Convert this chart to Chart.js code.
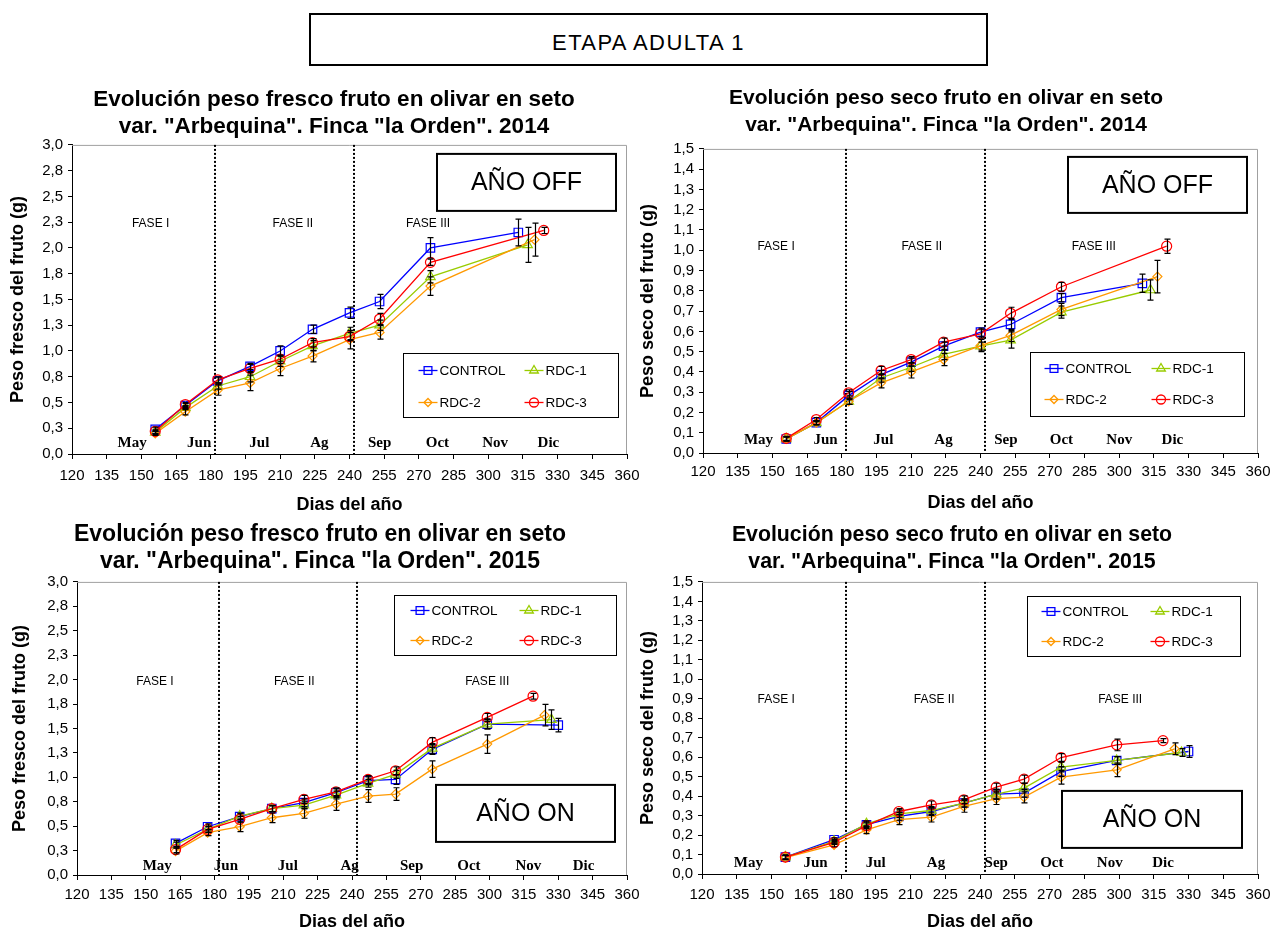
<!DOCTYPE html>
<html lang="es">
<head>
<meta charset="utf-8">
<title>Etapa adulta 1</title>
<script src="https://cdn.jsdelivr.net/npm/chart.js@4.4.1/dist/chart.umd.min.js"></script>
<style>
  html, body { margin: 0; padding: 0; background: #fff; }
  body { width: 1281px; height: 933px; position: relative; overflow: hidden; }
  .header {
    position: absolute; left: 309px; top: 13px; width: 679px; height: 53px;
    box-sizing: border-box; border: 2px solid #000; padding-top: 7px;
    font: 22px "Liberation Sans", Arial, sans-serif; letter-spacing: 1.4px;
    display: flex; align-items: center; justify-content: center;
  }
  canvas { position: absolute; }
</style>
</head>
<body>
<div class="header">ETAPA ADULTA 1</div>
<canvas id="fresh2014" width="668" height="450" style="left:0;top:80px"></canvas>
<canvas id="dry2014" width="651" height="450" style="left:630px;top:80px"></canvas>
<canvas id="fresh2015" width="650" height="428" style="left:0;top:505px"></canvas>
<canvas id="dry2015" width="651" height="428" style="left:630px;top:505px"></canvas>
<script>
// series
const SERIES = ["CONTROL", "RDC-1", "RDC-2", "RDC-3"]
const COLORS = ["#0000ff", "#99cc00", "#ff9900", "#ff0000"]
const MARKERS = ["rect", "triangle", "rectRot", "circle"]
const MARKER_SIZE = [6, 5.5, 4.5, 5]

// axes
const X_TICKS = [120, 135, 150, 165, 180, 195, 210, 225, 240, 255, 270, 285, 300, 315, 330, 345, 360]
const Y_TICKS_FRESH = [0, 0.25, 0.5, 0.75, 1, 1.25, 1.5, 1.75, 2, 2.25, 2.5, 2.75, 3]
const Y_TICKS_DRY = [0, 0.1, 0.2, 0.3, 0.4, 0.5, 0.6, 0.7, 0.8, 0.9, 1, 1.1, 1.2, 1.3, 1.4, 1.5]
const MONTHS = ["May", "Jun", "Jul", "Ag", "Sep", "Oct", "Nov", "Dic"]
const PHASES = ["FASE I", "FASE II", "FASE III"]
const PHASE_LIMITS = [182, 242]

// sampling days (day of year); last sample is shifted per series
const DAYS_2014 = [156, 169, 183, 197, 210, 224, 240, 253, 275]
const LAST_DAY_FRESH_2014 = [313, 317, 320, 324]
const LAST_DAY_DRY_2014 = [310, 313.5, 316.5, 320.5]
const DAYS_FRESH_2015 = [163, 177, 191, 205, 219, 233, 247, 259, 275, 299]
const DAYS_DRY_2015 = [156, 177, 191, 205, 219, 233, 247, 259, 275, 299]
const LAST_DAY_2015 = [330, 327, 324, 319]

// fresh weight 2014 (g) - CONTROL, RDC-1, RDC-2, RDC-3
const FRESH_2014 = [
  [0.24, 0.47, 0.71, 0.85, 1.00, 1.21, 1.37, 1.48, 2.00, 2.15],
  [0.21, 0.45, 0.66, 0.75, 0.90, 1.05, 1.17, 1.25, 1.72, 2.03],
  [0.20, 0.41, 0.62, 0.69, 0.83, 0.95, 1.11, 1.18, 1.63, 2.08],
  [0.22, 0.48, 0.72, 0.83, 0.92, 1.08, 1.14, 1.31, 1.86, 2.17]
]
const FRESH_2014_ERR = [
  [0.02, 0.02, 0.03, 0.03, 0.05, 0.04, 0.055, 0.07, 0.10, 0.13],
  [0.02, 0.02, 0.03, 0.05, 0.05, 0.05, 0.06, 0.05, 0.06, 0.17],
  [0.02, 0.03, 0.05, 0.075, 0.07, 0.055, 0.09, 0.065, 0.09, 0.16],
  [0.02, 0.02, 0.03, 0.04, 0.04, 0.04, 0.04, 0.055, 0.03, 0.03]
]

// dry weight 2014 (g)
const DRY_2014 = [
  [0.069, 0.15, 0.283, 0.387, 0.448, 0.527, 0.596, 0.634, 0.766, 0.837],
  [0.07, 0.148, 0.255, 0.37, 0.423, 0.486, 0.527, 0.557, 0.695, 0.804],
  [0.07, 0.15, 0.255, 0.346, 0.40, 0.461, 0.53, 0.58, 0.708, 0.87],
  [0.072, 0.165, 0.297, 0.407, 0.461, 0.547, 0.588, 0.689, 0.82, 1.02]
]
const DRY_2014_ERR = [
  [0.01, 0.01, 0.02, 0.02, 0.02, 0.02, 0.02, 0.03, 0.02, 0.045],
  [0.01, 0.01, 0.015, 0.02, 0.02, 0.025, 0.02, 0.04, 0.03, 0.05],
  [0.01, 0.01, 0.015, 0.025, 0.03, 0.03, 0.03, 0.03, 0.03, 0.08],
  [0.01, 0.01, 0.015, 0.02, 0.015, 0.02, 0.02, 0.03, 0.022, 0.035]
]

// fresh weight 2015 (g)
const FRESH_2015 = [
  [0.324, 0.494, 0.597, 0.68, 0.74, 0.842, 0.965, 0.978, 1.285, 1.545, 1.534],
  [0.307, 0.467, 0.603, 0.68, 0.716, 0.818, 0.938, 1.03, 1.296, 1.545, 1.59],
  [0.245, 0.433, 0.494, 0.586, 0.631, 0.726, 0.808, 0.828, 1.084, 1.34, 1.636],
  [0.26, 0.467, 0.57, 0.68, 0.774, 0.852, 0.978, 1.067, 1.357, 1.613, 1.83]
]
const FRESH_2015_ERR = [
  [0.03, 0.03, 0.03, 0.03, 0.04, 0.04, 0.04, 0.05, 0.05, 0.05, 0.07],
  [0.03, 0.03, 0.03, 0.03, 0.04, 0.04, 0.04, 0.04, 0.05, 0.05, 0.10],
  [0.03, 0.03, 0.05, 0.05, 0.05, 0.065, 0.065, 0.065, 0.085, 0.095, 0.11],
  [0.03, 0.03, 0.03, 0.03, 0.04, 0.04, 0.04, 0.04, 0.05, 0.04, 0.03]
]

// dry weight 2015 (g)
const DRY_2015 = [
  [0.087, 0.176, 0.253, 0.296, 0.321, 0.364, 0.41, 0.415, 0.526, 0.583, 0.629],
  [0.087, 0.168, 0.258, 0.309, 0.326, 0.364, 0.41, 0.441, 0.549, 0.583, 0.624],
  [0.084, 0.15, 0.227, 0.279, 0.292, 0.347, 0.387, 0.395, 0.497, 0.535, 0.643],
  [0.087, 0.162, 0.248, 0.321, 0.355, 0.381, 0.446, 0.487, 0.598, 0.663, 0.685]
]
const DRY_2015_ERR = [
  [0.01, 0.01, 0.015, 0.02, 0.02, 0.02, 0.025, 0.02, 0.025, 0.02, 0.03],
  [0.01, 0.01, 0.015, 0.02, 0.02, 0.02, 0.025, 0.025, 0.025, 0.02, 0.02],
  [0.01, 0.01, 0.02, 0.025, 0.025, 0.03, 0.03, 0.03, 0.035, 0.035, 0.03],
  [0.01, 0.01, 0.015, 0.015, 0.02, 0.02, 0.02, 0.02, 0.02, 0.03, 0.01]
]

const SANS = '"Liberation Sans", Arial, sans-serif'
const SERIF = '"Liberation Serif", "Times New Roman", serif'

Chart.defaults.font.family = SANS
Chart.defaults.color = "#000"

// phase lines, labels, months, frame, error bars, boxes
const decorPlugin = {
  id: "decor",
  beforeDatasetsDraw(chart, args, opts) {
    const { ctx, chartArea: a, scales: { x, y } } = chart
    ctx.save()
    ctx.strokeStyle = "#a0a0a0"
    ctx.lineWidth = 1
    ctx.beginPath()
    ctx.moveTo(a.left, a.top + 0.5)
    ctx.lineTo(a.right - 0.5, a.top + 0.5)
    ctx.lineTo(a.right - 0.5, a.bottom)
    ctx.stroke()

    ctx.strokeStyle = "#000"
    ctx.lineWidth = 2
    ctx.setLineDash([2, 2])
    PHASE_LIMITS.forEach((d) => {
      const px = Math.round(x.getPixelForValue(d))
      ctx.beginPath()
      ctx.moveTo(px, a.top)
      ctx.lineTo(px, a.bottom)
      ctx.stroke()
    })
    ctx.setLineDash([])

    ctx.fillStyle = "#000"
    ctx.textAlign = "center"
    ctx.textBaseline = "middle"
    ctx.font = "12px " + SANS
    PHASES.forEach((t, i) => {
      ctx.fillText(t, x.getPixelForValue(opts.phaseDay[i]), y.getPixelForValue(opts.phaseY))
    })
    ctx.font = "bold 15px " + SERIF
    MONTHS.forEach((m, i) => {
      ctx.fillText(m, x.getPixelForValue(opts.monthDay[i]), a.bottom - opts.monthOffset)
    })
    ctx.restore()
  },
  afterDatasetsDraw(chart) {
    const { ctx, scales: { x, y } } = chart
    ctx.save()
    ctx.strokeStyle = "#000"
    ctx.lineWidth = 1.2
    chart.data.datasets.forEach((ds) => {
      ds.data.forEach((p, j) => {
        const e = ds.errors[j]
        const px = Math.round(x.getPixelForValue(p.x)) + 0.5
        const top = y.getPixelForValue(p.y + e)
        const bot = y.getPixelForValue(p.y - e)
        ctx.beginPath()
        ctx.moveTo(px, top)
        ctx.lineTo(px, bot)
        ctx.moveTo(px - 3, top)
        ctx.lineTo(px + 3, top)
        ctx.moveTo(px - 3, bot)
        ctx.lineTo(px + 3, bot)
        ctx.stroke()
      })
    })
    ctx.restore()
  },
  afterDraw(chart, args, opts) {
    const { ctx, chartArea: a } = chart
    ctx.save()
    // year box
    const yb = opts.yearBox
    ctx.fillStyle = "#fff"
    ctx.fillRect(a.left + yb.x, a.top + yb.y, yb.w, yb.h)
    ctx.strokeStyle = "#000"
    ctx.lineWidth = 2
    ctx.strokeRect(a.left + yb.x, a.top + yb.y, yb.w, yb.h)
    ctx.fillStyle = "#000"
    ctx.font = "25px " + SANS
    ctx.textAlign = "center"
    ctx.textBaseline = "middle"
    ctx.fillText(opts.yearText, a.left + yb.x + yb.w / 2, a.top + yb.y + yb.h / 2 + 1)

    // legend box
    const lg = opts.legendBox
    const bx = Math.round(a.left + lg.x) + 0.5
    const by = Math.round(a.top + lg.y) + 0.5
    ctx.fillStyle = "#fff"
    ctx.fillRect(bx, by, lg.w, lg.h)
    ctx.lineWidth = 1
    ctx.strokeRect(bx, by, lg.w, lg.h)
    ctx.font = "13.5px " + SANS
    ctx.textAlign = "left"
    chart.data.datasets.forEach((ds, i) => {
      const lx = bx + lg.cols[i % 2]
      const ly = by + lg.rows[Math.floor(i / 2)]
      ctx.strokeStyle = COLORS[i]
      ctx.lineWidth = 1.3
      ctx.beginPath()
      ctx.moveTo(lx, ly)
      ctx.lineTo(lx + 19, ly)
      ctx.stroke()
      ctx.fillStyle = "rgba(0,0,0,0)"
      Chart.helpers.drawPoint(ctx, { pointStyle: MARKERS[i], radius: MARKER_SIZE[i] - 0.5, borderWidth: 1.2, rotation: 0 }, lx + 9.5, ly)
      ctx.fillStyle = "#000"
      ctx.fillText(ds.label, lx + 21, ly + 1)
    })
    ctx.restore()
  }
}

function makeChart(id, cfg) {
  const datasets = SERIES.map((name, i) => ({
    label: name,
    data: cfg.days[i].map((d, j) => ({ x: d, y: cfg.values[i][j] })),
    errors: cfg.errors[i],
    borderColor: COLORS[i],
    backgroundColor: "rgba(0,0,0,0)",
    pointBackgroundColor: "rgba(0,0,0,0)",
    pointBorderColor: COLORS[i],
    pointStyle: MARKERS[i],
    pointRadius: MARKER_SIZE[i],
    pointBorderWidth: 1.2,
    borderWidth: 1.3,
    tension: 0,
    order: SERIES.length - i
  }))

  return new Chart(document.getElementById(id), {
    type: "line",
    data: { datasets },
    plugins: [decorPlugin],
    options: {
      responsive: false,
      animation: false,
      devicePixelRatio: 1,
      layout: { padding: { left: 0, right: cfg.padRight, top: 0, bottom: 0 } },
      plugins: {
        legend: { display: false },
        tooltip: { enabled: false },
        title: {
          display: true,
          text: cfg.title,
          color: "#000",
          font: { family: SANS, size: cfg.titleSize, weight: "bold", lineHeight: 27 / cfg.titleSize },
          padding: { top: cfg.titleTop, bottom: cfg.titleBottom }
        },
        decor: {
          phaseDay: cfg.phaseDay,
          phaseY: cfg.phaseY,
          monthDay: cfg.monthDay,
          monthOffset: cfg.monthOffset,
          yearText: cfg.yearText,
          yearBox: cfg.yearBox,
          legendBox: cfg.legendBox
        }
      },
      scales: {
        x: {
          type: "linear",
          min: 120,
          max: 360,
          afterBuildTicks: (ax) => { ax.ticks = X_TICKS.map((v) => ({ value: v })) },
          afterFit: (ax) => {
            ax.height = cfg.xHeight
            ax.paddingLeft = 0
            ax.paddingRight = cfg.xPadRight
          },
          ticks: { autoSkip: false, maxRotation: 0, color: "#000", padding: cfg.xTickPad, font: { size: 15 } },
          grid: { drawOnChartArea: false, tickLength: 5, tickColor: "#000", tickWidth: 1 },
          border: { color: "#000", width: 1 },
          title: {
            display: true,
            text: "Dias del año",
            color: "#000",
            font: { size: 18, weight: "bold", lineHeight: 1.2 },
            padding: { top: 0, bottom: cfg.xTitleBottom }
          }
        },
        y: {
          type: "linear",
          min: 0,
          max: cfg.yTicks[cfg.yTicks.length - 1],
          afterBuildTicks: (ax) => { ax.ticks = cfg.yTicks.map((v) => ({ value: v })) },
          afterFit: (ax) => {
            ax.width = cfg.yWidth
            ax.paddingTop = 0
            ax.paddingBottom = 0
          },
          ticks: {
            autoSkip: false,
            color: "#000",
            padding: 5,
            font: { size: 15 },
            callback: (v) => v.toFixed(1).replace(".", ",")
          },
          grid: { drawOnChartArea: false, tickLength: 4, tickColor: "#000", tickWidth: 1 },
          border: { color: "#000", width: 1 },
          title: {
            display: true,
            text: cfg.yTitle,
            color: "#000",
            font: { size: 18, weight: "bold", lineHeight: 1.2 },
            padding: { top: cfg.yTitleTop, bottom: 0 }
          }
        }
      }
    }
  })
}

makeChart("fresh2014", {
  title: ["Evolución peso fresco fruto en olivar en seto", "var. \"Arbequina\". Finca \"la Orden\". 2014"],
  titleSize: 22.5,
  yTitle: "Peso fresco del fruto (g)",
  yTicks: Y_TICKS_FRESH,
  days: SERIES.map((s, i) => DAYS_2014.concat(LAST_DAY_FRESH_2014[i])),
  values: FRESH_2014,
  errors: FRESH_2014_ERR,
  phaseDay: [154, 215.5, 274],
  phaseY: 2.24,
  monthDay: [146, 175, 201, 227, 253, 278, 303, 326],
  monthOffset: 11,
  yearText: "AÑO OFF",
  yearBox: { x: 365, y: 9, w: 179, h: 57 },
  legendBox: { x: 331, y: 208, w: 215, h: 64, cols: [15, 121], rows: [17, 49] },
  padRight: 0, xPadRight: 41, yWidth: 72, yTitleTop: 7.2,
  titleTop: 6.5, titleBottom: 4.4, xHeight: 76, xTickPad: 8, xTitleBottom: 14.2
})

makeChart("dry2014", {
  title: ["Evolución peso seco fruto en olivar en seto", "var. \"Arbequina\". Finca \"la Orden\". 2014"],
  titleSize: 21,
  yTitle: "Peso seco del fruto (g)",
  yTicks: Y_TICKS_DRY,
  days: SERIES.map((s, i) => DAYS_2014.concat(LAST_DAY_DRY_2014[i])),
  values: DRY_2014,
  errors: DRY_2014_ERR,
  phaseDay: [151.6, 214.6, 289],
  phaseY: 1.016,
  monthDay: [144, 173, 198, 224, 251, 275, 300, 323],
  monthOffset: 13,
  yearText: "AÑO OFF",
  yearBox: { x: 365, y: 8, w: 179, h: 56 },
  legendBox: { x: 327, y: 203, w: 214, h: 64, cols: [14, 121], rows: [16, 47] },
  padRight: 19, xPadRight: 23, yWidth: 73, yTitleTop: 7.2,
  titleTop: 4.5, titleBottom: 10.4, xHeight: 77, xTickPad: 5, xTitleBottom: 16.2
})

makeChart("fresh2015", {
  title: ["Evolución peso fresco fruto en olivar en seto", "var. \"Arbequina\". Finca \"la Orden\". 2015"],
  titleSize: 23,
  yTitle: "Peso fresco del fruto (g)",
  yTicks: Y_TICKS_FRESH,
  days: SERIES.map((s, i) => DAYS_FRESH_2015.concat(LAST_DAY_2015[i])),
  values: FRESH_2015,
  errors: FRESH_2015_ERR,
  phaseDay: [154, 214.8, 299],
  phaseY: 1.977,
  monthDay: [155, 185, 212, 239, 266, 291, 317, 341],
  monthOffset: 9,
  yearText: "AÑO ON",
  yearBox: { x: 359, y: 203, w: 179, h: 57 },
  legendBox: { x: 317, y: 13, w: 222, h: 60, cols: [16, 125], rows: [15, 45] },
  padRight: 10, xPadRight: 23, yWidth: 77, yTitleTop: 9.2,
  titleTop: 16.5, titleBottom: 6.4, xHeight: 58, xTickPad: 6, xTitleBottom: 0.2
})

makeChart("dry2015", {
  title: ["Evolución peso seco fruto en olivar en seto", "var. \"Arbequina\". Finca \"la Orden\". 2015"],
  titleSize: 21.3,
  yTitle: "Peso seco del fruto (g)",
  yTicks: Y_TICKS_DRY,
  days: SERIES.map((s, i) => DAYS_DRY_2015.concat(LAST_DAY_2015[i])),
  values: DRY_2015,
  errors: DRY_2015_ERR,
  phaseDay: [152, 220.2, 300.5],
  phaseY: 0.897,
  monthDay: [140, 169, 195, 221, 247, 271, 296, 319],
  monthOffset: 11,
  yearText: "AÑO ON",
  yearBox: { x: 360, y: 209, w: 180, h: 57 },
  legendBox: { x: 325, y: 14, w: 213, h: 60, cols: [14, 123], rows: [15, 45] },
  padRight: 7, xPadRight: 23, yWidth: 72, yTitleTop: 7.2,
  titleTop: 16.5, titleBottom: 6.4, xHeight: 59, xTickPad: 7, xTitleBottom: 0.2
})
</script>
</body>
</html>
